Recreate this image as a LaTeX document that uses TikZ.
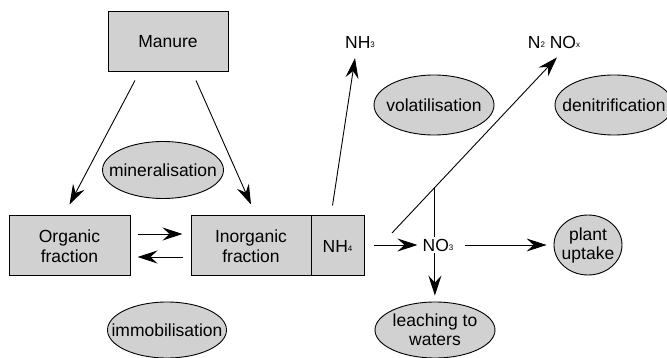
\documentclass[tikz,border=0pt]{standalone}
\usepackage{fontspec}
\setmainfont{Liberation Sans}
\usetikzlibrary{arrows.meta,shapes.geometric}
\newcommand{\lowsub}[1]{\raisebox{1pt}{\fontsize{8}{8}\selectfont #1}}
\begin{document}
\begin{tikzpicture}[x=1pt,y=-1pt,
        font=\fontsize{17.5}{20}\selectfont,
        box/.style={draw, line width=1pt, fill=black!18, rectangle, minimum width=120pt, minimum height=60pt, align=center, inner sep=0pt},
        process/.style={draw, line width=0.9pt, fill=black!18, ellipse, align=center, inner xsep=-14pt, inner ysep=-6pt},
        arr/.style={-{Stealth[length=20pt,width=13pt,inset=7pt]}, line width=0.9pt}]
        \useasboundingbox (0,0) rectangle (667,358);

        \node (manure) [box] at (168,42) {Manure};
        \node (organic) [box, minimum width=121pt] at (69.5,246) {Organic\\fraction};
        \node (inorganic) [box] at (251,246) {Inorganic\\fraction};
        \node (nhfour) [box, minimum width=53pt] at (337.5,246) {NH\lowsub{4}};

        \node (mineral) [process, minimum width=121pt, minimum height=57pt] at (163,170) {mineralisation};
        \node (immobil) [process, minimum width=119pt, minimum height=56pt] at (167,330) {immobilisation};
        \node (volatil) [process, minimum width=120pt, minimum height=60pt] at (434,105) {volatilisation};
        \node (denitri) [process, minimum width=118pt, minimum height=60pt] at (614,105) {denitrification};
        \node (plant) [process, minimum width=68pt, minimum height=60pt, font=\fontsize{17.5}{19}\selectfont] at (588,245) {plant\\uptake};
        \node (leaching) [process, minimum width=120pt, minimum height=56pt, font=\fontsize{17.5}{19}\selectfont] at (435,330) {leaching to\\waters};

        \node (nhthree) [inner sep=2pt] at (360,42) {NH\lowsub{3}};
        \node (ntwo) [inner sep=2pt] at (554,42) {N\lowsub{2} NO\lowsub{x}};
        \node (nothree) [inner sep=2pt] at (438,245) {NO\lowsub{3}};

        \draw[arr] ([xshift=-33pt,yshift=-8pt]manure.south) -- ([yshift=11pt]organic.north);
        \draw[arr] ([xshift=28pt,yshift=-8pt]manure.south) -- ([yshift=11pt]inorganic.north);
        \draw[arr, shorten <=7pt, shorten >=8pt] ([yshift=12pt]organic.east) -- ([yshift=12pt]inorganic.west);
        \draw[arr, shorten <=8pt, shorten >=7pt] ([yshift=-11pt]inorganic.west) -- ([yshift=-11pt]organic.east);

        \draw[arr] ([xshift=-5pt,yshift=10pt]nhfour.north) -- ([xshift=-5pt,yshift=-8pt]nhthree.south);
        \draw[arr] ([xshift=-46pt,yshift=12pt]nothree.center) -- coordinate[pos=0.26] (split) ([xshift=3pt,yshift=-7pt]ntwo.south);
        \draw[line width=0.9pt] (split) -- (split |- nothree.north);

        \draw[arr, shorten <=9pt, shorten >=3pt] (nhfour.east |- nothree) -- (nothree.west);
        \draw[arr, shorten <=9pt, shorten >=7pt] (nothree.east) -- (plant.west);
        \draw[arr, shorten >=6pt] (nothree.south -| split) -- (leaching.north -| split);
\end{tikzpicture}
\end{document}
